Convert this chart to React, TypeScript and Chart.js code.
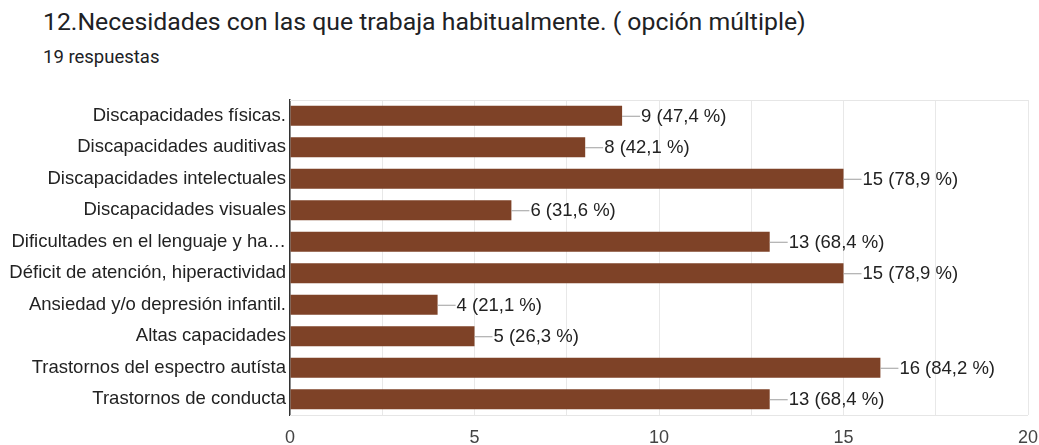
import React, { useEffect, useRef } from "react";
import { Chart, registerables } from "chart.js";

Chart.register(...registerables);

const categories = [
  "Discapacidades físicas.",
  "Discapacidades auditivas",
  "Discapacidades intelectuales",
  "Discapacidades visuales",
  "Dificultades en el lenguaje y ha…",
  "Déficit de atención, hiperactividad",
  "Ansiedad y/o depresión infantil.",
  "Altas capacidades",
  "Trastornos del espectro autísta",
  "Trastornos de conducta",
];
const counts = [9, 8, 15, 6, 13, 15, 4, 5, 16, 13];
const percents = ["47,4", "42,1", "78,9", "31,6", "68,4", "78,9", "21,1", "26,3", "84,2", "68,4"];
const title = "12.Necesidades con las que trabaja habitualmente. ( opción múltiple)";
const subtitle = "19 respuestas";
const xMax = 20;

const TITLE_FONT = "Roboto, 'Noto Sans', sans-serif";
const FONT = "'Liberation Sans', Arial, sans-serif";

const valueLabels = {
  id: "valueLabels",
  afterDatasetsDraw(chart: any) {
    const ctx = chart.ctx;
    const meta = chart.getDatasetMeta(0);
    ctx.save();
    ctx.font = `18.5px ${FONT}`;
    ctx.textBaseline = "middle";
    ctx.textAlign = "left";
    meta.data.forEach((bar: any, i: number) => {
      const x = bar.x;
      const y = bar.y;
      ctx.strokeStyle = "#9e9e9e";
      ctx.lineWidth = 1;
      ctx.beginPath();
      ctx.moveTo(x, y + 0.5);
      ctx.lineTo(x + 18, y + 0.5);
      ctx.stroke();
      ctx.fillStyle = "#222222";
      ctx.fillText(`${counts[i]} (${percents[i]} %)`, x + 19, y + 1);
    });
    ctx.restore();
  },
};

const frameLines = {
  id: "frameLines",
  beforeDatasetsDraw(chart: any) {
    const { ctx, chartArea } = chart;
    ctx.save();
    ctx.strokeStyle = "#e6e6e6";
    ctx.lineWidth = 1;
    ctx.beginPath();
    ctx.moveTo(chartArea.left, chartArea.top + 0.5);
    ctx.lineTo(chartArea.right, chartArea.top + 0.5);
    ctx.moveTo(chartArea.left, chartArea.bottom + 0.5);
    ctx.lineTo(chartArea.right, chartArea.bottom + 0.5);
    ctx.stroke();
    ctx.restore();
  },
};

export default function App() {
  const canvasRef = useRef<HTMLCanvasElement | null>(null);

  useEffect(() => {
    const canvas = canvasRef.current;
    if (!canvas) return;
    const chart = new Chart(canvas, {
      type: "bar",
      data: {
        labels: categories,
        datasets: [
          {
            data: counts,
            backgroundColor: "#7e4227",
            borderWidth: 0,
            barPercentage: 0.8,
            categoryPercentage: 0.8,
          },
        ],
      },
      options: {
        indexAxis: "y",
        animation: false,
        responsive: false,
        maintainAspectRatio: false,
        layout: { padding: { left: 0, top: 100, right: 11, bottom: 0 } },
        plugins: {
          legend: { display: false },
          tooltip: { enabled: false },
          title: { display: false },
        },
        scales: {
          x: {
            min: 0,
            max: xMax,
            ticks: {
              stepSize: 2.5,
              autoSkip: false,
              maxRotation: 0,
              color: "#444444",
              font: { family: FONT, size: 18 },
              padding: 12,
              callback: (v: any) => (Number(v) % 5 === 0 ? String(v) : ""),
            },
            grid: { color: "#e8e8e8", drawTicks: false },
            border: { display: false },
            afterFit: (scale: any) => {
              scale.height = 30;
              scale.paddingRight = 0;
              scale.paddingLeft = 0;
            },
          },
          y: {
            ticks: {
              color: "#222222",
              font: { family: FONT, size: 18.5 },
              padding: 4,
              autoSkip: false,
            },
            grid: { display: false, drawTicks: false },
            border: { display: true, color: "#333333", width: 1.5 },
            afterFit: (scale: any) => {
              scale.width = 290;
              scale.paddingTop = 0;
              scale.paddingBottom = 0;
            },
          },
        },
      },
      plugins: [frameLines, valueLabels],
    });
    return () => chart.destroy();
  }, []);

  return (
    <div style={{ position: "fixed", left: 0, top: 0, width: 1039, height: 445, background: "#fff" }}>
      <div
        style={{
          position: "absolute",
          left: 43,
          top: 5,
          fontFamily: TITLE_FONT,
          fontSize: 24.8,
          lineHeight: "34px",
          color: "#202124",
          whiteSpace: "nowrap",
        }}
      >
        {title}
      </div>
      <div
        style={{
          position: "absolute",
          left: 43,
          top: 44,
          fontFamily: TITLE_FONT,
          fontSize: 18.5,
          lineHeight: "26px",
          color: "#202124",
          whiteSpace: "nowrap",
        }}
      >
        {subtitle}
      </div>
      <canvas ref={canvasRef} width={1039} height={445} style={{ position: "absolute", left: 0, top: 0 }} />
    </div>
  );
}
